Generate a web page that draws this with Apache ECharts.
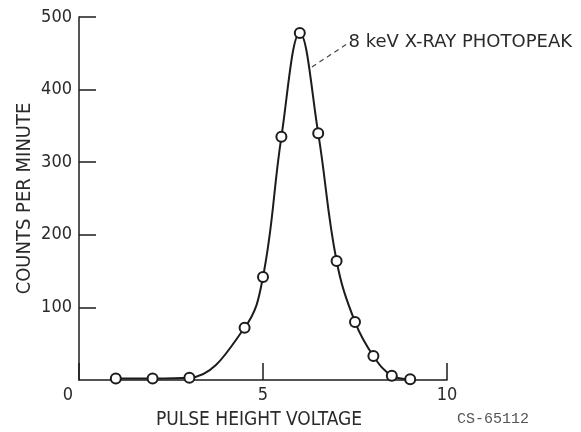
<!DOCTYPE html>
<html>
<head>
<meta charset="utf-8">
<script src="https://cdn.jsdelivr.net/npm/echarts@6/dist/echarts.min.js"></script>
<style>
    html, body { margin: 0; padding: 0; background: #fff; }
    #photopeak_chart { width: 581px; height: 432px; }
</style>
</head>
<body>
<div id="photopeak_chart"></div>
<script type="text/javascript">
    // pulse height voltage (x) and counts per minute (y)
    var voltage = [1, 2, 3, 4.5, 5, 5.5, 6, 6.5, 7, 7.5, 8, 8.5, 9];
    var counts  = [2, 2, 3, 72, 142, 335, 478, 340, 164, 80, 33, 6, 1];
    var yTicks  = [0, 100, 200, 300, 400, 500];
    var xTicks  = [0, 5, 10];
    var peakLabel = '8 keV X-RAY PHOTOPEAK';
    var leader = [[6.33, 431], [7.28, 463]];   // leader line, data coords

    var font = "'DejaVu Sans Condensed', 'DejaVu Sans', sans-serif";
    var ink = '#1c1c1c';

    var points = voltage.map(function (v, i) { return [v, counts[i]]; });

    var option = {
        animation: false,
        backgroundColor: '#fff',
        grid: { left: 79, right: 134, top: 17, bottom: 52, containLabel: false, outerBoundsMode: 'none' },
        xAxis: {
            type: 'value',
            min: xTicks[0],
            max: xTicks[xTicks.length - 1],
            interval: 5,
            name: 'PULSE HEIGHT VOLTAGE',
            nameLocation: 'middle',
            nameGap: 31,
            nameMoveOverlap: false,
            nameTextStyle: { fontFamily: font, fontSize: 19, color: '#2a2a2a', padding: [0, 8, 0, 0] },
            axisLine: { lineStyle: { color: ink, width: 1.5 } },
            axisTick: { inside: true, length: 17, lineStyle: { color: ink, width: 1.5 } },
            splitLine: { show: false },
            axisLabel: {
                margin: 6,
                fontFamily: font, fontSize: 18, color: '#2a2a2a',
                formatter: function (v) { return v === 0 ? '{z|0}' : String(v); },
                rich: { z: { fontFamily: font, fontSize: 18, color: '#2a2a2a', padding: [0, 22, 0, 0] } }
            }
        },
        yAxis: {
            type: 'value',
            min: yTicks[0],
            max: yTicks[yTicks.length - 1],
            interval: 100,
            name: 'COUNTS PER MINUTE',
            nameLocation: 'middle',
            nameGap: 44,
            nameMoveOverlap: false,
            nameTextStyle: { fontFamily: font, fontSize: 20, color: '#2a2a2a' },
            axisLine: { show: true, lineStyle: { color: ink, width: 1.5 } },
            axisTick: { show: true, inside: true, length: 17, lineStyle: { color: ink, width: 1.5 } },
            splitLine: { show: false },
            axisLabel: { showMinLabel: false, margin: 7, fontFamily: font, fontSize: 18, color: '#2a2a2a' }
        },
        series: [
            {
                name: 'counts',
                type: 'line',
                data: points,
                smooth: 0.4,
                symbol: 'emptyCircle',
                symbolSize: 10,
                lineStyle: { color: ink, width: 2 },
                itemStyle: { color: ink, borderWidth: 1.5 },
                markLine: {
                    silent: true,
                    symbol: ['none', 'none'],
                    lineStyle: { type: [5, 4], color: '#444', width: 1.2 },
                    label: {
                        show: true,
                        position: 'end',
                        distance: 2,
                        formatter: peakLabel,
                        fontFamily: "'DejaVu Sans', sans-serif",
                        fontSize: 18,
                        color: '#2a2a2a'
                    },
                    data: [[{ coord: leader[0] }, { coord: leader[1] }]]
                }
            }
        ],
        graphic: [
            {
                type: 'text',
                left: 457,
                top: 412,
                style: { text: 'CS-65112', fontFamily: "'Liberation Mono', monospace", fontSize: 15, fill: '#555' }
            }
        ]
    };

    var photopeak_chart = echarts.init(document.getElementById('photopeak_chart'));
    photopeak_chart.setOption(option);
</script>
</body>
</html>
